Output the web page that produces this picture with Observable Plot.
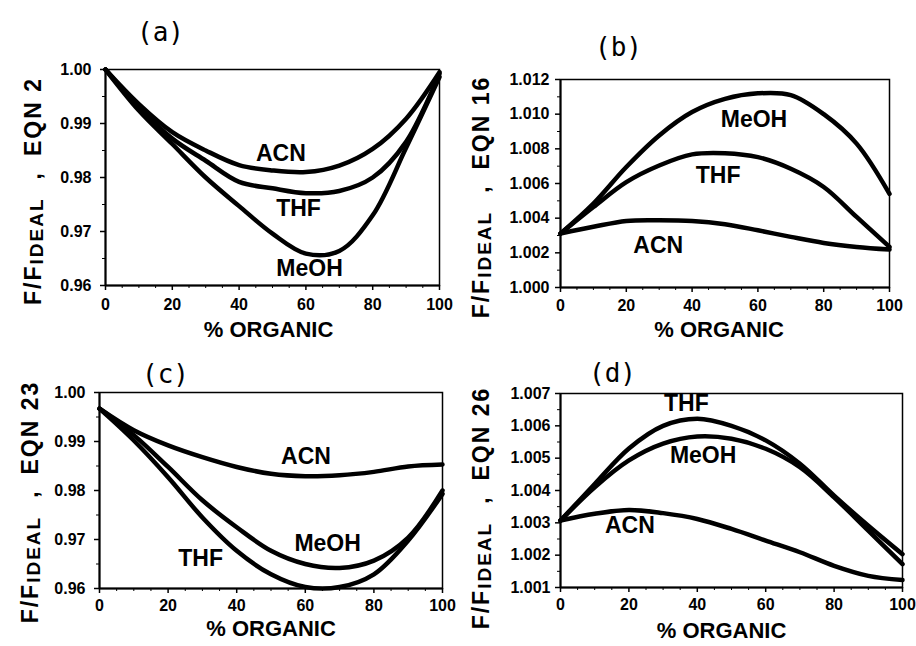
<!DOCTYPE html>
<html><head><meta charset="utf-8">
<script src="https://cdn.jsdelivr.net/npm/d3@7"></script>
<script src="https://cdn.jsdelivr.net/npm/@observablehq/plot@0.6"></script>
<style>
body{margin:0;background:#fff;}
#wrap{position:relative;width:916px;height:646px;overflow:hidden;background:#fff;}
#wrap svg{position:absolute;}
</style></head><body><div id="wrap"></div>
<script>
// ---- data ----
const organic = [0, 10, 20, 30, 40, 50, 60, 70, 80, 90, 100];
const xTicks = [0, 20, 40, 60, 80, 100];
const xMinorTicks = [5,10,15,25,30,35,45,50,55,65,70,75,85,90,95];

// panel (a) EQN 2
const aACN  = [1.0000, 0.9936, 0.9884, 0.9850, 0.9823, 0.9813, 0.9810, 0.9822, 0.9853, 0.9909, 0.9995];
const aTHF  = [1.0000, 0.9930, 0.9872, 0.9831, 0.9792, 0.9780, 0.9771, 0.9775, 0.9800, 0.9866, 0.9992];
const aMeOH = [1.0000, 0.9924, 0.9862, 0.9800, 0.9747, 0.9696, 0.9659, 0.9664, 0.9730, 0.9855, 0.9986];
const aYTicks = [0.96, 0.97, 0.98, 0.99, 1.00];
const aYMinor = [0.965, 0.975, 0.985, 0.995];
const aLabels = [{t:"ACN", x:52.5, y:0.9845}, {t:"THF", x:57.8, y:0.9742}, {t:"MeOH", x:61.1, y:0.9631}];

// panel (b) EQN 16
const bACN  = [1.00311, 1.00350, 1.00384, 1.00388, 1.00384, 1.00365, 1.00330, 1.00292, 1.00257, 1.00234, 1.00219];
const bTHF  = [1.00311, 1.00464, 1.00608, 1.00704, 1.00768, 1.00775, 1.00752, 1.00685, 1.00580, 1.00407, 1.00234];
const bMeOH = [1.00311, 1.00484, 1.00695, 1.00877, 1.01012, 1.01088, 1.01120, 1.01110, 1.01000, 1.00830, 1.00540];
const bYTicks = [1.000, 1.002, 1.004, 1.006, 1.008, 1.010, 1.012];
const bYMinor = [1.001, 1.003, 1.005, 1.007, 1.009, 1.011];
const bLabels = [{t:"MeOH", x:58.8, y:1.00967}, {t:"THF", x:47.9, y:1.00647}, {t:"ACN", x:29.7, y:1.00244}];

// panel (c) EQN 23
const cACN  = [0.9967, 0.9923, 0.9892, 0.9868, 0.9848, 0.9834, 0.9829, 0.9831, 0.9838, 0.9849, 0.9853];
const cTHF  = [0.9967, 0.9902, 0.9827, 0.9745, 0.9677, 0.9629, 0.9603, 0.9603, 0.9629, 0.9698, 0.9793];
const cMeOH = [0.9967, 0.9913, 0.9848, 0.9780, 0.9725, 0.9677, 0.9650, 0.9642, 0.9657, 0.9704, 0.9800];
const cYTicks = [0.96, 0.97, 0.98, 0.99, 1.00];
const cYMinor = [0.965, 0.975, 0.985, 0.995];
const cLabels = [{t:"ACN", x:60.2, y:0.98683}, {t:"MeOH", x:66.5, y:0.96922}, {t:"THF", x:29.5, y:0.9660}];

// panel (d) EQN 26
const dACN  = [1.00307, 1.00328, 1.00340, 1.00330, 1.00312, 1.00281, 1.00245, 1.00209, 1.00167, 1.00136, 1.00123];
const dTHF  = [1.00307, 1.00420, 1.00530, 1.00600, 1.00622, 1.00600, 1.00555, 1.00483, 1.00384, 1.00291, 1.00203];
const dMeOH = [1.00307, 1.00410, 1.00493, 1.00545, 1.00567, 1.00560, 1.00529, 1.00472, 1.00379, 1.00276, 1.00172];
const dYTicks = [1.001, 1.002, 1.003, 1.004, 1.005, 1.006, 1.007];
const dYMinor = [1.0015, 1.0025, 1.0035, 1.0045, 1.0055, 1.0065];
const dLabels = [{t:"THF", x:36.8, y:1.00669}, {t:"MeOH", x:41.7, y:1.00508}, {t:"ACN", x:20.3, y:1.00291}];

const SANS = "'Liberation Sans', Arial, Helvetica, sans-serif";
const MONO = "'DejaVu Sans Mono', 'Liberation Mono', monospace";

function rows(series) {
  return series.flatMap(([name, vals]) => organic.map((x, i) => ({s: name, x, y: vals[i]})));
}

function panel(cfg) {
  const data = rows(cfg.series);
  const svg = Plot.plot({
    width: cfg.width, height: cfg.height,
    marginTop: cfg.m[0], marginRight: cfg.m[1], marginBottom: cfg.m[2], marginLeft: cfg.m[3],
    style: {fontFamily: SANS, fontWeight: "bold", color: "black", background: "white", overflow: "visible"},
    x: {domain: [0, 100]},
    y: {domain: cfg.yDomain},
    marks: [
      Plot.frame({stroke: "black", strokeWidth: 1.5}),
      Plot.ruleX([0], {stroke: "black", strokeWidth: 2}),
      Plot.ruleY([cfg.yDomain[0]], {stroke: "black", strokeWidth: 2}),
      Plot.axisX({ticks: xTicks, tickSize: 5, tickPadding: cfg.xPad, tickFormat: d3.format("d"), fontSize: 16, fontWeight: "bold", label: null, strokeWidth: 1.5}),
      Plot.axisX({ticks: xMinorTicks, tickSize: 3, tickFormat: () => "", label: null}),
      Plot.axisY({ticks: cfg.yTicks, tickSize: 5, tickPadding: cfg.yPad, tickFormat: d3.format(cfg.yFmt), fontSize: 16, fontWeight: "bold", label: null, strokeWidth: 1.5}),
      Plot.axisY({ticks: cfg.yMinor, tickSize: 3, tickFormat: () => "", label: null}),
      Plot.line(data, {x: "x", y: "y", z: "s", stroke: "black", strokeWidth: 4.5, curve: "catmull-rom", strokeLinejoin: "round", strokeLinecap: "round"}),
      Plot.text(cfg.labels, {x: "x", y: "y", text: "t", fontSize: 23, fontWeight: "bold", fill: "black"}),
      Plot.text([cfg.title], {frameAnchor: "top-left", dx: cfg.titleD[0], dy: cfg.titleD[1], fontFamily: MONO, fontWeight: "normal", fontSize: 26, textAnchor: "middle", fill: "black"}),
      Plot.text(["% ORGANIC"], {frameAnchor: "bottom", dx: cfg.xLabD[0], dy: cfg.xLabD[1], fontSize: 22, fontWeight: "bold", fill: "black"})
    ]
  });
  svg.style.left = cfg.left + "px";
  svg.style.top = cfg.top + "px";
  // rotated y label with subscript
  const t = d3.select(svg).append("text")
    .attr("transform", `translate(${cfg.yLab[0]},${cfg.yLab[1]}) rotate(-90)`)
    .attr("text-anchor", "middle")
    .attr("font-family", SANS).attr("font-weight", "bold")
    .attr("font-size", 23).attr("letter-spacing", 2).attr("fill", "black");
  t.append("tspan").text("F/F");
  t.append("tspan").attr("font-size", 19).attr("dy", 2).text("IDEAL");
  t.append("tspan").attr("dy", -2).attr("dx", 18).text(",");
  t.append("tspan").attr("dx", 15).text(cfg.eqn);
  document.getElementById("wrap").appendChild(svg);
}

panel({left: 0, top: 0, width: 458, height: 350, m: [69, 19, 65, 105],
  yDomain: [0.96, 1.00], yTicks: aYTicks, yMinor: aYMinor, yFmt: ".2f", yPad: 9, xPad: 8,
  series: [["ACN", aACN], ["THF", aTHF], ["MeOH", aMeOH]], labels: aLabels,
  title: "(a)", titleD: [55, -47], xLabD: [-4, 51], yLab: [41, 191], eqn: "EQN 2"});

panel({left: 458, top: 0, width: 458, height: 350, m: [79, 27, 63, 102],
  yDomain: [1.000, 1.012], yTicks: bYTicks, yMinor: bYMinor, yFmt: ".3f", yPad: 6, xPad: 7,
  series: [["ACN", bACN], ["THF", bTHF], ["MeOH", bMeOH]], labels: bLabels,
  title: "(b)", titleD: [58, -42], xLabD: [-6, 49], yLab: [31, 197], eqn: "EQN 16"});

panel({left: 0, top: 350, width: 458, height: 296, m: [42, 16, 58, 99],
  yDomain: [0.96, 1.00], yTicks: cYTicks, yMinor: cYMinor, yFmt: ".2f", yPad: 9, xPad: 6,
  series: [["ACN", cACN], ["THF", cTHF], ["MeOH", cMeOH]], labels: cLabels,
  title: "(c)", titleD: [66, -28], xLabD: [0, 47], yLab: [38, 152], eqn: "EQN 23"});

panel({left: 458, top: 350, width: 458, height: 296, m: [43, 14, 59, 102],
  yDomain: [1.001, 1.007], yTicks: dYTicks, yMinor: dYMinor, yFmt: ".3f", yPad: 5, xPad: 6,
  series: [["ACN", dACN], ["THF", dTHF], ["MeOH", dMeOH]], labels: dLabels,
  title: "(d)", titleD: [52, -30], xLabD: [-10, 50], yLab: [31, 158], eqn: "EQN 26"});
</script>
</body></html>
